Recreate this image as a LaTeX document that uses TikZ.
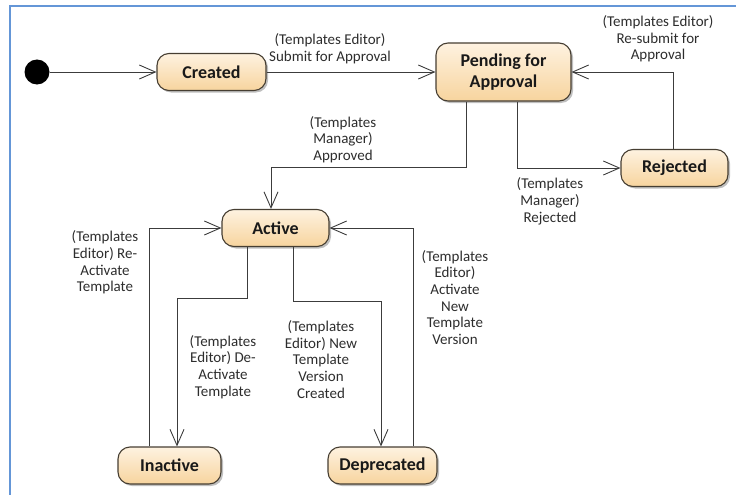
\documentclass[tikz,border=0pt]{standalone}
\usepackage{fontspec}
\setmainfont{Carlito}
\usetikzlibrary{arrows.meta,shadows}
\definecolor{nodetop}{RGB}{254,242,224}
\definecolor{nodebot}{RGB}{247,212,158}
\definecolor{nodeline}{RGB}{70,62,50}
\definecolor{conn}{RGB}{60,60,60}
\definecolor{frameblue}{RGB}{100,150,215}
\definecolor{labeltext}{RGB}{45,45,45}
\tikzset{
  state/.style={draw=nodeline, line width=1.1pt, rounded corners=12pt,
    top color=nodetop, bottom color=nodebot, inner sep=0pt,
    font=\fontsize{18}{21}\selectfont\bfseries, text=black!90, align=center,
    drop shadow={shadow xshift=2pt, shadow yshift=-2pt, opacity=0.25, fill=black}},
  arr/.style={draw=conn, line width=0.9pt,
    -{Straight Barb[length=16pt, width=14pt, line width=0.9pt]}},
  lbl/.style={font=\fontsize{15}{16.7}\selectfont, text=labeltext, align=center, inner sep=0pt}
}
\begin{document}
\begin{tikzpicture}[x=1pt,y=-1pt]
\useasboundingbox (0,0) rectangle (736,495);
% frame
\draw[frameblue, line width=2pt] (10,495) -- (10,6) -- (736,6);
% states
\node[circle, fill=black, minimum size=25pt, inner sep=0pt] (init) at (37,72) {};
\node[state, minimum width=109pt, minimum height=37pt] (created) at (211.5,72) {Created};
\node[state, minimum width=135pt, minimum height=58pt] (pending) at (503.5,72) {Pending for\\Approval};
\node[state, minimum width=107pt, minimum height=37pt] (rejected) at (674.5,168) {Rejected};
\node[state, minimum width=107pt, minimum height=37pt] (active) at (275.5,228) {Active};
\node[state, minimum width=103pt, minimum height=37pt] (inactive) at (169.5,465.5) {Inactive};
\node[state, minimum width=109pt, minimum height=37pt] (deprecated) at (382.5,465.5) {Deprecated};
% connectors
\draw[arr] (init) -- (created);
\draw[arr] (created) -- (pending);
\draw[arr] (466,0 |- pending.south) |- (271,167) -- (271,0 |- active.north);
\draw[arr] (517,0 |- pending.south) |- (rejected.west);
\draw[arr] (673,0 |- rejected.north) |- (pending.east);
\draw[arr] (247,0 |- active.south) |- (177,298) -- (177,0 |- inactive.north);
\draw[arr] (149,0 |- inactive.north) |- (active.west);
\draw[arr] (293,0 |- active.south) |- (381,301) -- (381,0 |- deprecated.north);
\draw[arr] (413,0 |- deprecated.north) |- (active.east);
% labels
\node[lbl] (l1) at (330,48.5) {(Templates Editor)\\Submit for Approval};
\node[lbl] (l2) at (658,39) {(Templates Editor)\\Re-submit for\\Approval};
\node[lbl] (l3) at (343,139.5) {(Templates\\Manager)\\Approved};
\node[lbl] (l4) at (550,201.5) {(Templates\\Manager)\\Rejected};
\node[lbl] (l5) at (105,262.5) {(Templates\\Editor) Re-\\Activate\\Template};
\node[lbl] (l6) at (223,367) {(Templates\\Editor) De-\\Activate\\Template};
\node[lbl] (l7) at (321,359.5) {(Templates\\Editor) New\\Template\\Version\\Created};
\node[lbl] (l8) at (455,297.5) {(Templates\\Editor)\\Activate\\New\\Template\\Version};
\end{tikzpicture}
\end{document}
